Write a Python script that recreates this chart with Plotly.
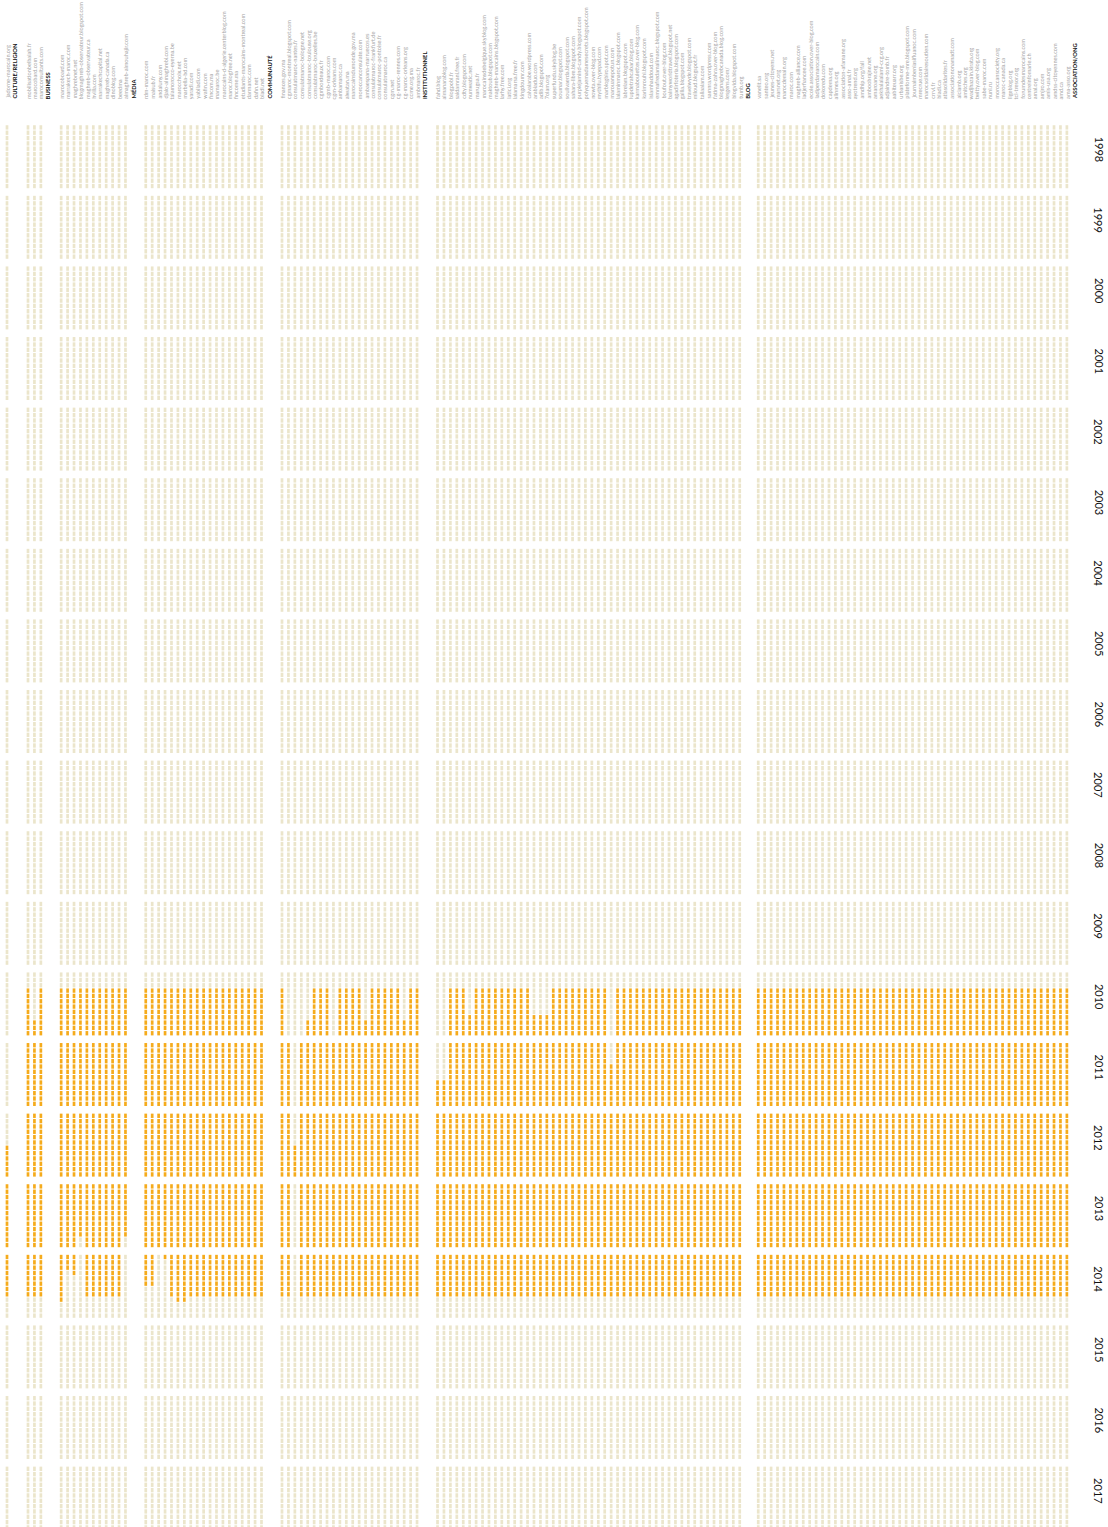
import plotly.graph_objects as go

# ---------------- data ----------------
years = list(range(1998, 2018))
months = list(range(12))

groups = ["CULTURE/RELIGION", "BUSINESS", "MÉDIA", "COMMUNAUTÉ", "INSTITUTIONNEL", "BLOG", "ASSOCIATION/ONG"]

sites_culture = ["jadorne-marocain.org"]
sites_business = ["mobilisationbelbalah.fr", "marocobard.com", "maroconsultants.com"]
sites_media = ["marocoboard.com", "marrakech-maroc.com", "maghrebnet.net",
               "blogmaghreb-observateur.blogspot.com", "maghreb-observateur.ca", "hvilla.com",
               "marrakechcapital.net", "maghreb-canada.ca", "dinoblog.com", "beedma",
               "almaghreb-almouhajir.com"]
sites_communaute = ["rdm-maroc.com", "maisub.fr", "andaluny.com", "djalo-almaghrebi.com",
                    "talamorocco-eyerna.be", "marocchoix.net", "marbella-bd.com", "yaradi.com",
                    "yabiladi.com", "wafin.com", "fincom.ma", "mamaroc.be",
                    "marocains-d-algerie.centerblog.com", "maroc.blogfree.net", "fincome.ma",
                    "etudiants-marocains-montreal.com", "darmaroc.com", "dafin.net", "bladi.net"]
sites_institutionnel = ["finances.gov.ma", "cgmaroc-montreal.blogspot.com", "consulatmaroc-nantes.fr",
                        "consulatmaroc-bologne.net", "consulatmaroc-toulouse.org",
                        "consulatmaroc-bruxelles.be", "cgmbordeaux.fr", "cgmb-maroc.com",
                        "cgm-orleans.com", "ambamaroc.ca", "alwatan.ma", "marocainsdumonde.gov.ma",
                        "moroccanconsulate.com", "ambaespana-marruecos.es",
                        "consulatmaroc-frankfurt.de", "consulatmaroc-pontoise.fr",
                        "consulatmaroc.ca", "cgm.net", "cg-maroc-rennes.com",
                        "cg-maroc-orleans.org", "ccme.org.ma", "ambmaroc.fr"]
sites_blog = ["fahd.blog", "almanarablog.com", "blogpobl.fr", "saidamrani.free.fr",
              "cdty.blogspot.com", "numwatic.net", "marugsa.fr",
              "marocainsdebelgique.skyblog.com", "maktoub.blogspot.com",
              "maghreb-marocains.blogspot.com", "larhy.free.com", "latici.org",
              "lalamarsa.free.fr", "kingdoumr.com", "calvalarabe.wordpress.com",
              "arabiaduo.com", "adib.blogspot.com", "7olam.org", "superfundu.skyblog.be",
              "soumar.blogspot.com", "soulivaerda.blogspot.com", "sahara-libre.blogspot.com",
              "purplejamind-candy.blogspot.com", "polyquemadamesecrets.blogspot.com",
              "nowta.over-blog.com", "mythifu.typepad.com", "marblogbiro.spot.com",
              "marouanepotun.com", "lalaminmaroc.blogspot.com", "labrelam.blogspot.com",
              "lupdetrahcabar.blog.com", "karmaboulettes.over-blog.com",
              "karimrouhi.blogspot.com", "islamhaddoud.com",
              "emmafredamalimaroc.blogspot.com", "boufout.over-blog.com",
              "balmyworldtravel.blogspot.net", "agadirfoteria.blogspot.com",
              "gallia.blogspot.com", "travelwyde.blogspot.com", "miloud.blogspot.fr",
              "taliaalam.com", "samnra.wordpress.com", "fatima-zahra.over-blog.com",
              "blogmaghrebcanada.blog.com", "lesgens.com/", "blogvida.blogspot.com",
              "tumb.org"]
sites_association = ["vanelit.sa", "santeo.org", "jeunes-citoyens.net", "marsnet.org",
                     "marocdemain.org", "maroc.com", "maghreb-alliance.com",
                     "ladjerfiancee.com", "ecole.association.over-blog.com",
                     "ladiperdamarocain.com", "dokoredu.com", "capdema.org", "alinmes.org",
                     "association-afamane.org", "asso-amal.fr", "ayotrend.org",
                     "amdhip.org/fall", "amboobrajne.net", "amaroane.org",
                     "aekhalalalaml-ccg.org", "adjaindre-tomb.fr", "aabiteuarr.org",
                     "urbanisbe.org", "plateforme-mre.blogspot.com",
                     "journalmbeniasifluanoc.com", "mrecrue.com",
                     "marocsolidairesoutien.com", "crrvl.fr", "bladi.ca",
                     "atlasolidarites.fr", "associationonamadt.com", "alciamb.org",
                     "amitches.org", "wadjhazain.kirata.org", "twitty.over-blog.com",
                     "sabe-maroc.com", "nuni.ru", "moroccansociety.org", "maroc-canada.ca",
                     "ligeblog.org", "tcl-tresor.org", "forumdesmarocains.com",
                     "centreinfomarie.ch", "amal.org", "amjro.com", "amis-usa.org",
                     "amdss-citoyennes.com", "amd.ca", "ama-asso.org"]

group_sites = [sites_culture, sites_business, sites_media, sites_communaute,
               sites_institutionnel, sites_blog, sites_association]

# activity period of each site: first and last month archived ("YYYY-MM")
default_start = "2010-04"
default_end = "2014-08"
site_start = {
    "jadorne-marocain.org": "2012-07", "marocobard.com": "2010-10",
    "cgmaroc-montreal.blogspot.com": "2011-01", "consulatmaroc-nantes.fr": "2012-07",
    "consulatmaroc-bologne.net": "2011-01", "consulatmaroc-toulouse.org": "2010-10",
    "cgm-orleans.com": "2011-01", "ambaespana-marruecos.es": "2010-10",
    "cg-maroc-orleans.org": "2010-10",
    "fahd.blog": "2011-08", "almanarablog.com": "2011-08", "numwatic.net": "2010-09",
    "arabiaduo.com": "2010-09", "adib.blogspot.com": "2010-09", "7olam.org": "2010-09",
    "marouanepotun.com": "2011-05",
}
site_end = {
    "marocoboard.com": "2014-09", "marrakech-maroc.com": "2014-03",
    "maghrebnet.net": "2014-04", "blogmaghreb-observateur.blogspot.com": "2013-10",
    "almaghreb-almouhajir.com": "2013-10", "rdm-maroc.com": "2014-06",
    "maisub.fr": "2014-06", "andaluny.com": "2013-12", "djalo-almaghrebi.com": "2014-01",
    "marocchoix.net": "2014-09", "marbella-bd.com": "2014-09",
    "consulatmaroc-nantes.fr": "2012-12",
}

# ---------------- styling ----------------
C_ON = "#f5ab1c"
C_OFF = "#ebe5cb"
STEP = 6.43                                   # px per column
GAPS = [21.0, 20.3, 20.3, 20.5, 20.5, 18.5]   # px between groups
X0 = 7.0                                      # px of first column
W, H = 1108, 1527
Y_FIRST = 127.4      # px centre of first dash
M_PITCH = 5.33       # px per month
Y_BLOCK = 70.6       # px per year

def ym_index(s):
    y, m = s.split("-")
    return (int(y) - years[0]) * 12 + int(m) - 1

col_names, col_pos, headers = [], [], []
pos = 0.0
for gi, sites in enumerate(group_sites):
    if gi > 0:
        pos += GAPS[gi - 1] / STEP - 1
    for s in sites:
        col_names.append(s)
        col_pos.append(pos)
        pos += 1
    headers.append((groups[gi], col_pos[-1] + 1.1))

block = Y_BLOCK / M_PITCH

xs_on, ys_on, xs_off, ys_off = [], [], [], []
for name, p in zip(col_names, col_pos):
    a = ym_index(site_start.get(name, default_start))
    b = ym_index(site_end.get(name, default_end))
    for yi, yr in enumerate(years):
        for m in months:
            idx = yi * 12 + m
            yv = yi * block + m
            if a <= idx <= b:
                xs_on.append(p); ys_on.append(yv)
            else:
                xs_off.append(p); ys_off.append(yv)

fig = go.Figure()
dash = dict(symbol="line-ns", size=3.1)
fig.add_trace(go.Scatter(x=xs_off, y=ys_off, mode="markers", hoverinfo="skip",
                         marker=dict(**dash, line=dict(color=C_OFF, width=2.7))))
fig.add_trace(go.Scatter(x=xs_on, y=ys_on, mode="markers", hoverinfo="skip",
                         marker=dict(**dash, line=dict(color=C_ON, width=2.7))))

y_label = (101 - Y_FIRST) / M_PITCH
for name, p in zip(col_names, col_pos):
    fig.add_annotation(x=p, y=y_label, text=name, textangle=-90, showarrow=False,
                       xanchor="center", yanchor="bottom",
                       font=dict(family="Lato", size=5.6, color="#a6a6a6"))
for g, p in headers:
    fig.add_annotation(x=p, y=y_label, text="<b>" + g + "</b>", textangle=-90, showarrow=False,
                       xanchor="center", yanchor="bottom",
                       font=dict(family="Lato", size=5.8, color="#111111"))

x_year = (1099 - X0) / STEP
for yi, yr in enumerate(years):
    fig.add_annotation(x=x_year, y=yi * block + 5.5 - 7 / M_PITCH, text=str(yr), textangle=90,
                       showarrow=False, xanchor="center", yanchor="middle",
                       font=dict(family="Lato", size=11, color="#111111"))

fig.update_layout(
    width=W, height=H, margin=dict(l=0, r=0, t=0, b=0),
    paper_bgcolor="white", plot_bgcolor="white", showlegend=False,
    xaxis=dict(range=[-X0 / STEP, (W - X0) / STEP], visible=False, fixedrange=True),
    yaxis=dict(range=[(H - Y_FIRST) / M_PITCH, -Y_FIRST / M_PITCH], visible=False, fixedrange=True),
)
fig.write_html("out.html", config={"displayModeBar": False},
               post_script="document.body.style.margin='0px';document.body.style.overflow='hidden';")
